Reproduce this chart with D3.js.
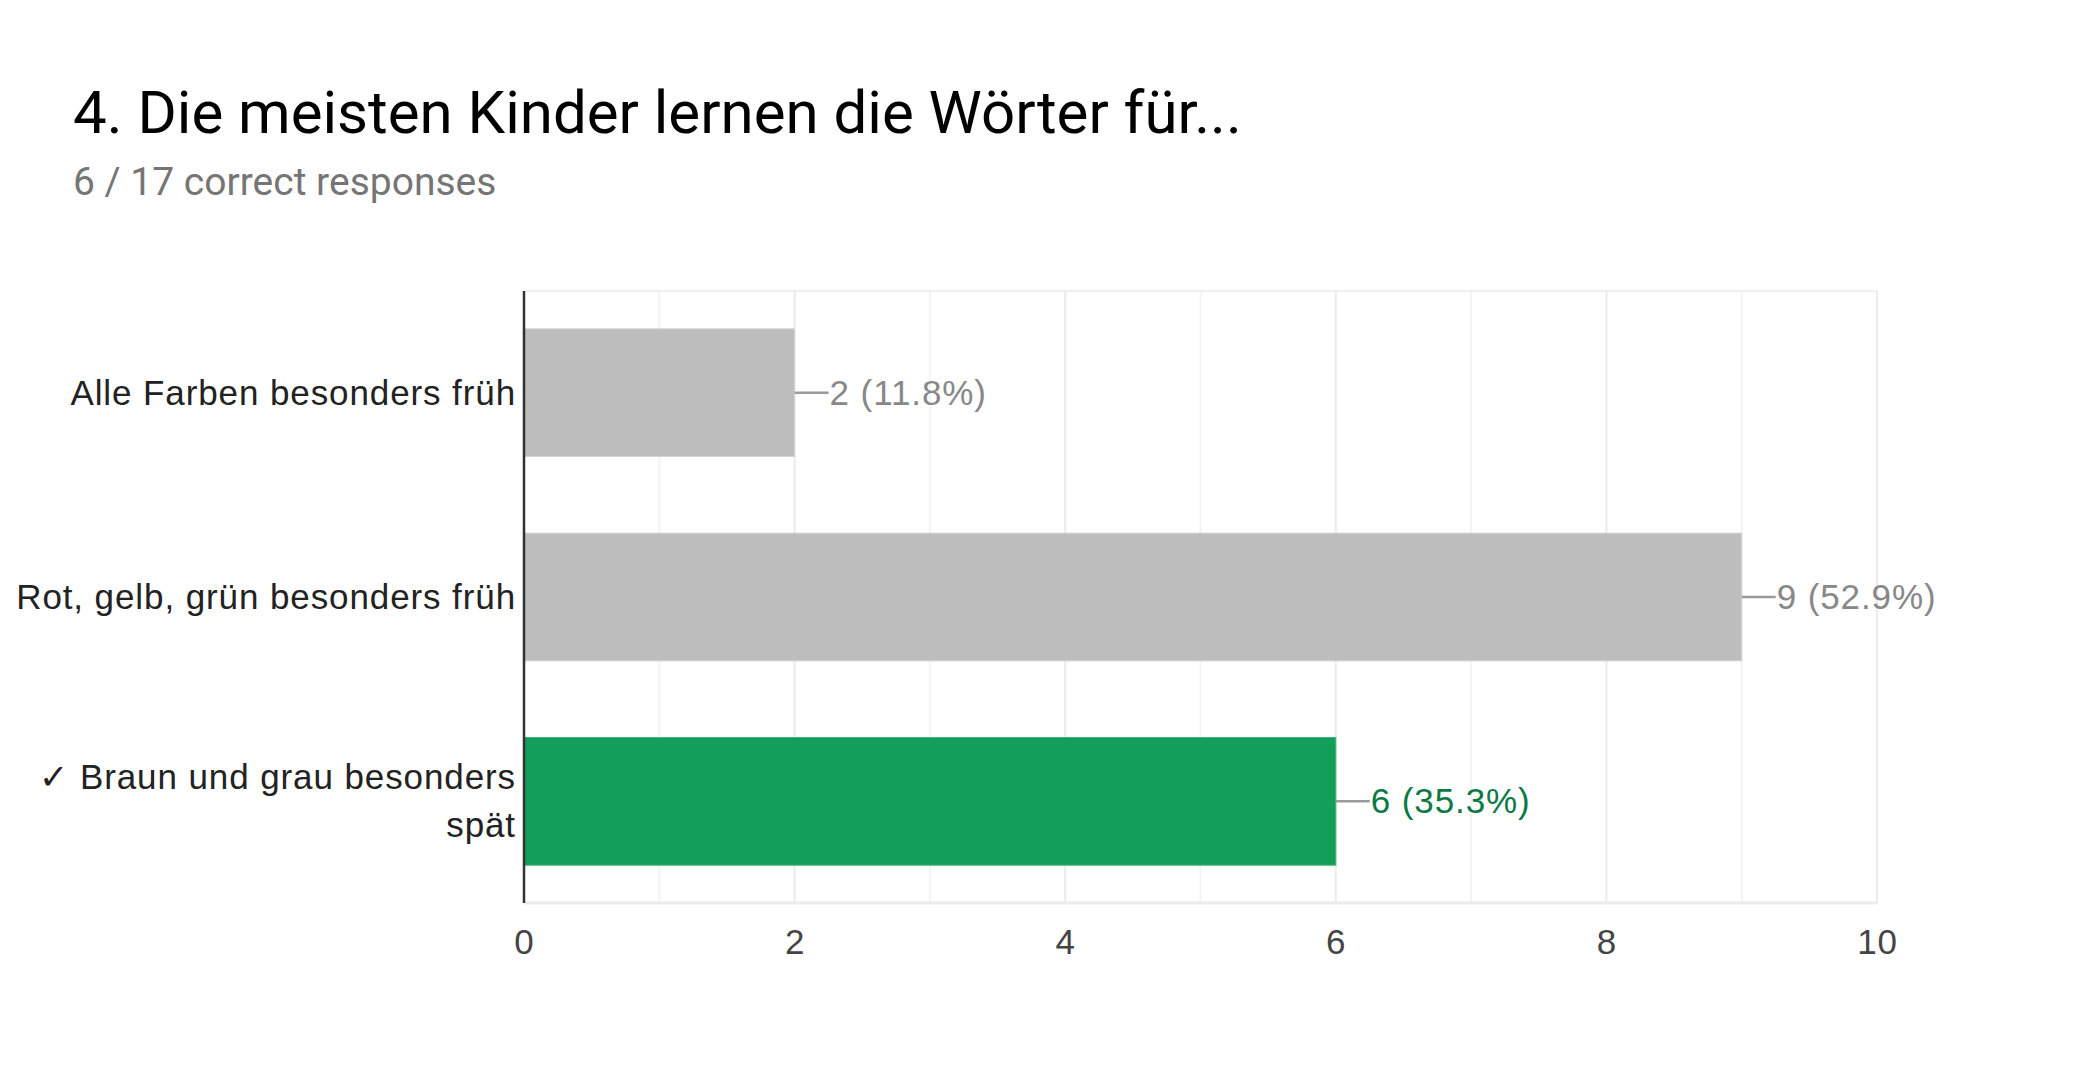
<!DOCTYPE html>
<html>
<head>
<meta charset="utf-8">
<script src="https://cdn.jsdelivr.net/npm/d3@7"></script>
<style>
  body { margin: 0; background: #fff; }
  text { font-family: Roboto, "Noto Sans", Arial, sans-serif; }
  .chart-text { font-family: Arial, "Liberation Sans", sans-serif; letter-spacing: 0.9px; }
</style>
</head>
<body>
<div id="chart"></div>
<script>
const title = '4. Die meisten Kinder lernen die Wörter für...'
const subtitle = '6 / 17 correct responses'
const categories = ['Alle Farben besonders früh', 'Rot, gelb, grün besonders früh', '✓ Braun und grau besonders spät']
const counts = [2, 9, 6]
const percents = ['11.8%', '52.9%', '35.3%']
const correct = [false, false, true]
const xTicks = [0, 2, 4, 6, 8, 10]

const width = 2088
const height = 1083
const margin = { top: 291, right: 211, bottom: 180, left: 524 }

const svg = d3.select('#chart').append('svg')
              .attr('width', width)
              .attr('height', height)

svg.append('text')
   .attr('x', 73).attr('y', 133)
   .attr('font-size', 60)
   .attr('fill', '#000')
   .text(title)
svg.append('text')
   .attr('x', 73).attr('y', 195)
   .attr('font-size', 39)
   .attr('fill', '#757575')
   .text(subtitle)

const x = d3.scaleLinear().domain([0, 10]).range([margin.left, width - margin.right])
const y = d3.scaleBand().domain(categories)
            .range([margin.top, height - margin.bottom])
            .paddingInner(0.375).paddingOuter(0.185)

// grid
const g = svg.append('g')
g.selectAll('line.grid')
 .data(d3.range(1, 11))
 .join('line')
 .attr('x1', d => x(d)).attr('x2', d => x(d))
 .attr('y1', margin.top).attr('y2', height - margin.bottom)
 .attr('stroke', d => d % 2 === 0 ? '#ebebeb' : '#f3f3f3')
 .attr('stroke-width', 2)
g.append('line')
 .attr('x1', margin.left).attr('x2', width - margin.right)
 .attr('y1', margin.top).attr('y2', margin.top)
 .attr('stroke', '#f0f0f0').attr('stroke-width', 2)
g.append('line')
 .attr('x1', margin.left).attr('x2', width - margin.right)
 .attr('y1', height - margin.bottom).attr('y2', height - margin.bottom)
 .attr('stroke', '#ebebeb').attr('stroke-width', 3)

// x axis labels
const xAxis = svg.append('g')
   .attr('transform', `translate(0,${height - margin.bottom})`)
   .call(d3.axisBottom(x).tickValues(xTicks).tickSize(0).tickPadding(26))
xAxis.select('.domain').remove()
xAxis.selectAll('text')
     .attr('class', 'chart-text')
     .attr('font-size', 35)
     .attr('fill', '#444')
     .attr('font-family', null)

// bars
const rows = categories.map((c, i) => ({ c, n: counts[i], p: percents[i], ok: correct[i] }))
svg.selectAll('rect.bar')
   .data(rows)
   .join('rect')
   .attr('x', x(0))
   .attr('y', d => y(d.c))
   .attr('width', d => x(d.n) - x(0))
   .attr('height', y.bandwidth())
   .attr('fill', d => d.ok ? '#139f5a' : '#bdbdbd')
   .attr('stroke', d => d.ok ? '#3fb377' : '#d3d3d3')
   .attr('stroke-width', 1)

// value labels
svg.selectAll('line.lead')
   .data(rows)
   .join('line')
   .attr('x1', d => x(d.n)).attr('x2', d => x(d.n) + 34)
   .attr('y1', d => y(d.c) + y.bandwidth() / 2)
   .attr('y2', d => y(d.c) + y.bandwidth() / 2)
   .attr('stroke', '#9a9a9a').attr('stroke-width', 2.5)
svg.selectAll('text.value')
   .data(rows)
   .join('text')
   .attr('class', 'chart-text')
   .attr('x', d => x(d.n) + 35)
   .attr('y', d => y(d.c) + y.bandwidth() / 2 + 12)
   .attr('font-size', 35)
   .attr('fill', d => d.ok ? '#0b7a45' : '#888')
   .text(d => `${d.n} (${d.p})`)

// category labels with wrapping
const labelRight = margin.left - 8
const maxW = 515
svg.selectAll('text.cat')
   .data(categories)
   .join('text')
   .attr('class', 'chart-text')
   .attr('font-size', 35)
   .attr('fill', '#222')
   .attr('text-anchor', 'end')
   .each(function (d) {
       const t = d3.select(this)
       const words = d.split(' ')
       const lines = []
       let cur = []
       const probe = t.append('tspan')
       words.forEach(w => {
           probe.text(cur.concat(w).join(' '))
           if (probe.node().getComputedTextLength() > maxW && cur.length) {
               lines.push(cur.join(' '))
               cur = [w]
           } else {
               cur.push(w)
           }
       })
       lines.push(cur.join(' '))
       probe.remove()
       const lh = 48
       const cy = y(d) + y.bandwidth() / 2
       const first = cy + 12 - (lines.length - 1) * lh / 2
       lines.forEach((l, i) => {
           t.append('tspan').attr('x', labelRight).attr('y', first + i * lh).text(l)
       })
   })

// left axis line
svg.append('line')
   .attr('x1', margin.left).attr('x2', margin.left)
   .attr('y1', margin.top).attr('y2', height - margin.bottom)
   .attr('stroke', '#333').attr('stroke-width', 2.5)
</script>
</body>
</html>
